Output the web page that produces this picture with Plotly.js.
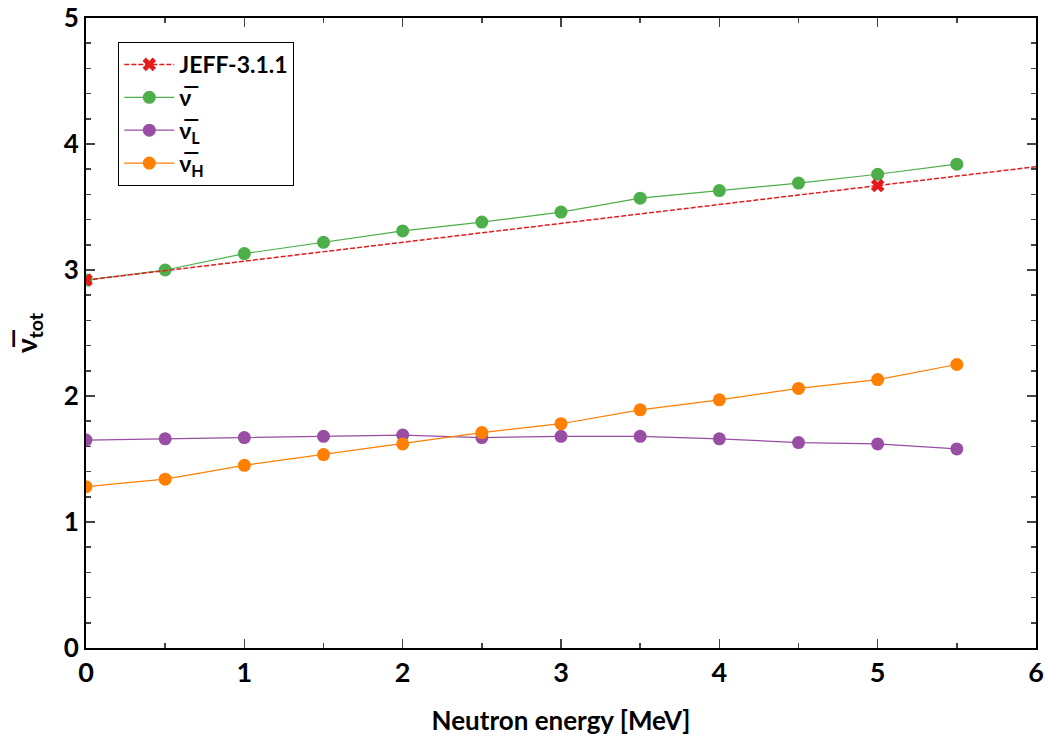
<!DOCTYPE html>
<html>
<head>
<meta charset="utf-8">
<script src="https://cdn.plot.ly/plotly-3.0.1.min.js"></script>
<style>html,body{margin:0;padding:0;background:#fff;}#chart{width:1052px;height:741px;}</style>
</head>
<body>
<div id="chart"></div>
<script>
const energy = [0, 0.5, 1, 1.5, 2, 2.5, 3, 3.5, 4, 4.5, 5, 5.5];
const nuBar = [2.92, 3.00, 3.13, 3.22, 3.31, 3.38, 3.46, 3.57, 3.63, 3.69, 3.76, 3.84];
const nuL = [1.65, 1.66, 1.67, 1.68, 1.69, 1.67, 1.68, 1.68, 1.66, 1.63, 1.62, 1.58];
const nuH = [1.28, 1.34, 1.45, 1.535, 1.62, 1.71, 1.78, 1.89, 1.97, 2.06, 2.13, 2.25];
const jeffEnergy = [0, 5, 10];
const jeffNu = [2.92, 3.67, 4.42];
const names = ['JEFF-3.1.1', 'ν̅', 'ν̅<sub>L</sub>', 'ν̅<sub>H</sub>'];
const xTickVals = [0, 1, 2, 3, 4, 5, 6];
const yTickVals = [0, 1, 2, 3, 4, 5];

const FONT = 'Lato, "Open Sans", sans-serif';
const traces = [
  {x: energy, y: nuBar, name: names[1], mode: 'lines+markers',
   line: {color: '#4daf4a', width: 1.2}, marker: {color: '#4daf4a', size: 13, symbol: 'circle'}},
  {x: energy, y: nuL, name: names[2], mode: 'lines+markers',
   line: {color: '#984ea3', width: 1.2}, marker: {color: '#984ea3', size: 13, symbol: 'circle'}},
  {x: energy, y: nuH, name: names[3], mode: 'lines+markers',
   line: {color: '#ff7f00', width: 1.2}, marker: {color: '#ff7f00', size: 13, symbol: 'circle'}},
  {x: jeffEnergy, y: jeffNu, name: names[0], mode: 'lines+markers',
   line: {color: '#e41a1c', width: 1.5, dash: '5px,2px'}, marker: {color: '#e41a1c', size: 12, symbol: 'x'}}
];
traces[3].legendrank = 1; traces[0].legendrank = 2; traces[1].legendrank = 3; traces[2].legendrank = 4;

const layout = {
  width: 1052, height: 741,
  margin: {l: 86, r: 16, t: 18, b: 93},
  paper_bgcolor: '#fff', plot_bgcolor: '#fff',
  font: {family: FONT, color: '#000', weight: 'bold'},
  showlegend: true,
  legend: {x: 0.034, y: 0.962, xanchor: 'left', yanchor: 'top',
    bordercolor: '#000', borderwidth: 1, bgcolor: '#fff',
    font: {family: FONT, size: 23, color: '#000', weight: 'bold'},
    itemwidth: 50, tracegroupgap: 0},
  xaxis: {
    range: [0, 6], tickvals: xTickVals, ticks: 'inside', ticklen: 9, tickwidth: 1.5, tickcolor: '#444',
    minor: {dtick: 0.5, ticks: 'inside', ticklen: 5, tickwidth: 1.5, tickcolor: '#444', showgrid: false},
    showline: true, linecolor: '#000', linewidth: 2, mirror: 'allticks', showgrid: false, zeroline: false,
    tickfont: {family: FONT, size: 27, color: '#000', weight: 'bold'},
    ticklabeloverflow: 'allow',
    title: {text: 'Neutron energy [MeV]', font: {family: FONT, size: 26, color: '#000', weight: 'bold'}, standoff: 24}
  },
  yaxis: {
    range: [0, 5], tickvals: yTickVals, ticks: 'inside', ticklen: 9, tickwidth: 1.5, tickcolor: '#444',
    minor: {dtick: 0.2, ticks: 'inside', ticklen: 5, tickwidth: 1.5, tickcolor: '#444', showgrid: false},
    showline: true, linecolor: '#000', linewidth: 2, mirror: 'allticks', showgrid: false, zeroline: false,
    tickfont: {family: FONT, size: 26, color: '#000', weight: 'bold'},
    ticklabeloverflow: 'allow',
    title: {text: 'ν̅<sub>tot</sub>', font: {family: FONT, size: 28, color: '#000', weight: 'bold'}, standoff: 18}
  }
};
Plotly.newPlot('chart', traces, layout, {displayModeBar: false, staticPlot: true});
</script>
</body>
</html>
